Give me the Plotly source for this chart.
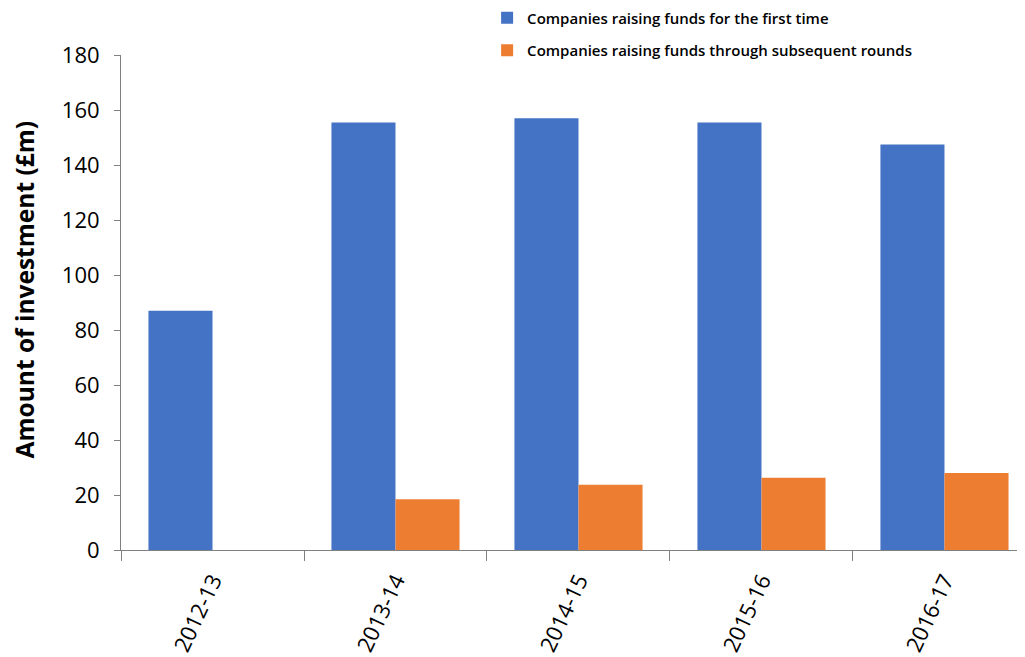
import plotly.graph_objects as go

categories = ["2012-13", "2013-14", "2014-15", "2015-16", "2016-17"]
first_time = [87, 155.5, 157, 155.5, 147.5]
subsequent = [None, 18.5, 23.7, 26.3, 28.0]
series_names = ["Companies raising funds for the first time",
                "Companies raising funds through subsequent rounds"]
y_ticks = [0, 20, 40, 60, 80, 100, 120, 140, 160, 180]
y_title = "Amount of investment (£m)"

fig = go.Figure()
fig.add_trace(go.Bar(x=categories, y=first_time, name=series_names[0],
                     marker=dict(color="#4472C4", line=dict(width=0)), legendgroup="a"))
fig.add_trace(go.Bar(x=categories, y=subsequent, name=series_names[1],
                     marker=dict(color="#ED7D31", line=dict(width=0)), legendgroup="b"))

fig.add_annotation(text="<b>" + y_title + "</b>", xref="paper", yref="paper",
                   x=-0.107, y=0.525, xanchor="center", yanchor="middle",
                   textangle=-90, showarrow=False, font=dict(size=24.5))

fig.update_layout(
    width=1025, height=657,
    margin=dict(l=113, r=8, t=47, b=115, autoexpand=False),
    paper_bgcolor="white", plot_bgcolor="white",
    barmode="group", bargap=0.3, bargroupgap=0,
    font=dict(family="Open Sans, Liberation Sans, sans-serif", color="#000"),
    legend=dict(x=0.405, y=1.108, xanchor="left", yanchor="top",
                font=dict(size=15, family="Open Sans", weight=600), tracegroupgap=10,
                itemwidth=30, bgcolor="rgba(0,0,0,0)"),
    xaxis=dict(type="category", range=[-0.5, 4.44], showline=True, linecolor="#808080",
               linewidth=1, ticks="outside", tickson="boundaries", ticklen=10,
               tickcolor="#808080", tickangle=-65, tickfont=dict(size=22),
               ticklabelstandoff=8, showgrid=False, automargin=False),
    yaxis=dict(range=[0, 180], tickvals=y_ticks, showline=True, linecolor="#808080",
               linewidth=1, ticks="outside", ticklen=6, tickcolor="#808080",
               tickfont=dict(size=22), ticklabelstandoff=10, showgrid=False,
               zeroline=False, automargin=False),
)

fig.write_html("out.html")
